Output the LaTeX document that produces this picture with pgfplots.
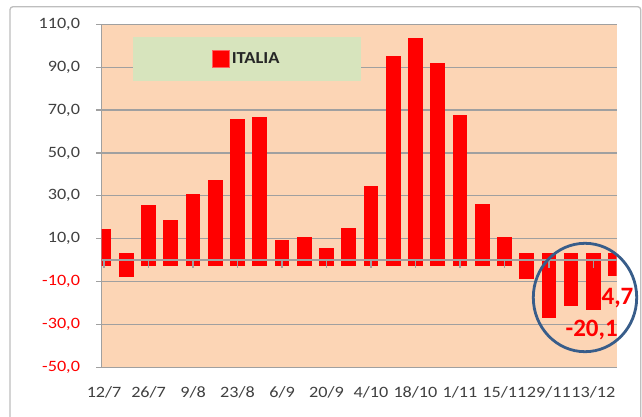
\documentclass[border=0pt]{standalone}
\usepackage{pgfplots}
\pgfplotsset{compat=1.18}
\usepackage{pgfplotstable}
\usepackage{fontspec}
\setmainfont{Carlito}
\newfontfamily\tickfont{Carlito}[FakeStretch=1.15]
\newfontfamily\legfont{Carlito}[FakeStretch=1.1]
\definecolor{peach}{RGB}{252,213,181}
\definecolor{lgreen}{RGB}{215,228,189}
\definecolor{gridgray}{RGB}{160,160,160}
\definecolor{circblue}{RGB}{56,93,138}
\definecolor{txtgray}{RGB}{64,64,64}
\definecolor{baredge}{RGB}{255,95,95}
\definecolor{frame}{RGB}{190,190,190}

% val = bar end, base = bar start
\pgfplotstableread{
x val base
0 14.6 -2.8
1 -8.0 3.2
2 25.5 -2.8
3 18.6 -2.8
4 30.9 -2.8
5 37.5 -2.8
6 65.7 -2.8
7 66.9 -2.8
8 9.4 -2.8
9 10.7 -2.8
10 5.8 -2.8
11 15.2 -2.8
12 34.8 -2.8
13 95.0 -2.8
14 103.8 -2.8
15 91.8 -2.8
16 67.7 -2.8
17 26.1 -2.8
18 10.7 -2.8
19 -8.8 3.2
20 -26.9 3.2
21 -21.4 3.2
22 -23.5 3.2
23 -7.2 3.2
}\data

\begin{document}
\begin{tikzpicture}
\useasboundingbox (0pt,0pt) rectangle (642pt,416pt);
\fill[white] (0pt,0pt) rectangle (642pt,416pt);
\draw[frame, line width=1.3pt, rounded corners=3pt] (10pt,409.3pt) rectangle (640.7pt,-10pt);
\begin{axis}[
  at={(101.7pt,48.7pt)}, anchor=south west,
  scale only axis, width=515pt, height=343pt,
  xmin=-0.108, xmax=23.05, ymin=-50, ymax=110,
  axis background/.style={fill=peach},
  ytick={-50,-30,...,110},
  yticklabels={{\textcolor{red}{-50,0}},{\textcolor{red}{-30,0}},{\textcolor{red}{-10,0}},{10,0},{30,0},{50,0},{70,0},{90,0},{110,0}},
  xtick={0,2,...,22},
  xticklabels={12/7,26/7,9/8,23/8,6/9,20/9,4/10,18/10,1/11,15/11,29/11,13/12},
  ymajorgrids, grid style={gridgray, line width=1.3pt},
  axis x line*=bottom, axis y line*=left,
  axis line style={gridgray, line width=1.3pt},
  tick align=outside, major tick length=5.7pt,
  y tick style={gridgray, line width=1.3pt},
  x tick style={draw=none},
  tick label style={font=\tickfont\fontsize{15.8}{18}\selectfont, text=txtgray},
  yticklabel style={xshift=-12.5pt},
  xticklabel style={yshift=-9.5pt},
  legend style={at={(axis description cs:0.2817,0.898)}, anchor=center,
    fill=none, draw=none, font=\legfont\bfseries\fontsize{16.8}{20}\selectfont, text=black!85},
  clip=true,
]
\fill[lgreen] (axis description cs:0.0602,0.834) rectangle (axis description cs:0.5035,0.963);
\addplot[draw=none, mark=none,
  legend image code/.code={\draw[fill=red, draw=baredge, line width=0.8pt] (0pt,-8.5pt) rectangle (17pt,8.5pt);},
  error bars/.cd, y dir=both, y explicit, error mark=none,
  error bar style={draw=red, line width=14.7pt},
  ]
  table[x=x, y expr={(\thisrow{val}+\thisrow{base})/2},
        y error expr={abs(\thisrow{val}-\thisrow{base})/2}] {\data};
\addlegendentry{ITALIA}
\draw[gridgray, line width=1.3pt] (axis cs:-0.108,0) -- (axis cs:23.05,0);
\pgfplotsinvokeforeach{0,2,...,22}{\draw[gridgray, line width=1.3pt] (axis cs:#1,0) -- (axis cs:#1,-3.7);}
\end{axis}
\draw[circblue, line width=2.8pt] (585pt,118.5pt) ellipse [x radius=51.7pt, y radius=54.2pt];
\node[text=red, font=\bfseries\fontsize{25}{30}\selectfont] at (617.5pt,117.7pt) {4,7};
\node[text=red, font=\bfseries\fontsize{25}{30}\selectfont] at (591.7pt,86pt) {-20,1};
\end{tikzpicture}
\end{document}
